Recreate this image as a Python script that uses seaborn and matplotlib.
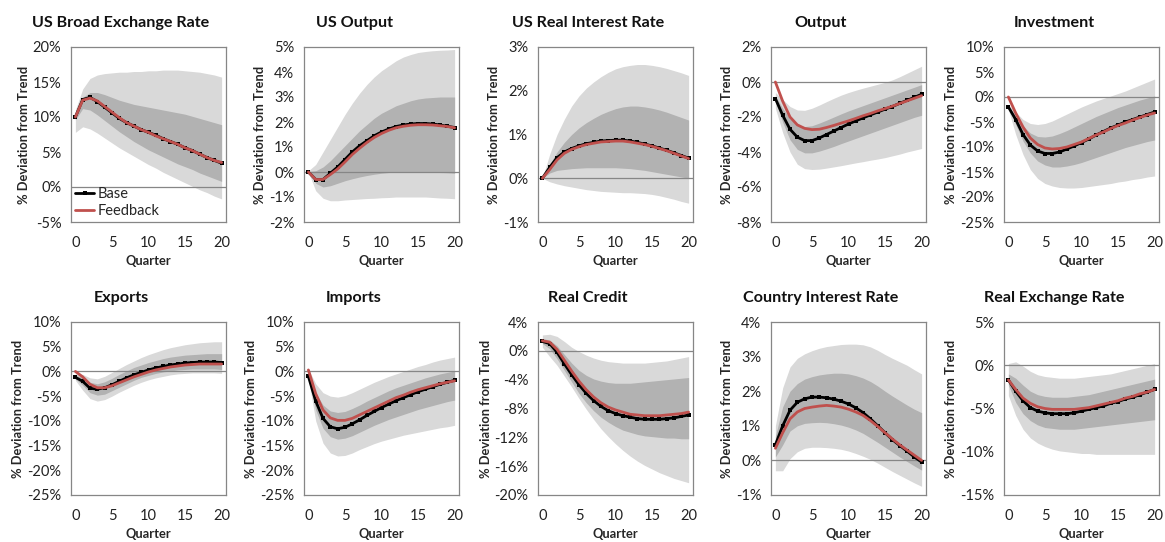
import matplotlib
import matplotlib.pyplot as plt
import numpy as np
import pandas as pd
import seaborn as sns
from matplotlib.lines import Line2D
from matplotlib.ticker import FuncFormatter, MultipleLocator

matplotlib.use("Agg")

QUARTERS = list(range(21))

# US Broad Exchange Rate
BROAD_BASE = [10, 12.5, 12.8, 12.2, 11.4, 10.6, 9.8, 9.2, 8.7, 8.2, 7.8, 7.4, 6.9, 6.5, 6.1, 5.6, 5.2, 4.7, 4.2, 3.8, 3.4]
BROAD_FEED = [10, 12.4, 12.7, 12.3, 11.5, 10.7, 9.9, 9.2, 8.7, 8.2, 7.8, 7.3, 6.9, 6.5, 6.1, 5.6, 5.2, 4.7, 4.2, 3.8, 3.5]
BROAD_OUT_HI = [11, 14, 15.5, 16, 16.2, 16.3, 16.4, 16.4, 16.5, 16.5, 16.6, 16.6, 16.7, 16.7, 16.7, 16.6, 16.5, 16.4, 16.2, 16.0, 15.7]
BROAD_OUT_LO = [7.8, 8.6, 8.3, 7.7, 7.0, 6.3, 5.6, 5.0, 4.4, 3.8, 3.2, 2.7, 2.1, 1.6, 1.1, 0.6, 0.1, -0.4, -0.8, -1.3, -1.7]
BROAD_IN_HI = [10, 12.8, 13.5, 13.5, 13.2, 12.8, 12.4, 12.1, 11.8, 11.6, 11.4, 11.2, 11.0, 10.8, 10.6, 10.4, 10.1, 9.8, 9.5, 9.2, 8.9]
BROAD_IN_LO = [9.6, 11.2, 11.0, 10.3, 9.5, 8.7, 7.9, 7.2, 6.5, 5.9, 5.3, 4.8, 4.3, 3.8, 3.3, 2.9, 2.5, 2.0, 1.6, 1.2, 0.8]

# US Output
USY_BASE = [0, -0.3, -0.3, -0.05, 0.2, 0.5, 0.8, 1.05, 1.25, 1.45, 1.6, 1.72, 1.82, 1.88, 1.92, 1.94, 1.94, 1.92, 1.88, 1.83, 1.78]
USY_FEED = [0, -0.3, -0.3, -0.1, 0.12, 0.4, 0.7, 0.95, 1.18, 1.38, 1.54, 1.67, 1.77, 1.83, 1.87, 1.89, 1.89, 1.88, 1.85, 1.82, 1.77]
USY_OUT_HI = [0.05, 0.3, 0.8, 1.3, 1.8, 2.3, 2.75, 3.15, 3.5, 3.8, 4.05, 4.25, 4.45, 4.6, 4.7, 4.78, 4.82, 4.85, 4.87, 4.88, 4.9]
USY_OUT_LO = [0, -0.75, -1.05, -1.15, -1.15, -1.12, -1.1, -1.08, -1.06, -1.05, -1.03, -1.02, -1.0, -1.0, -1.0, -1.0, -1.0, -1.02, -1.04, -1.05, -1.07]
USY_IN_HI = [0.02, 0.05, 0.2, 0.45, 0.75, 1.05, 1.35, 1.65, 1.9, 2.15, 2.35, 2.5, 2.65, 2.75, 2.85, 2.92, 2.96, 2.98, 3.0, 3.0, 3.0]
USY_IN_LO = [0, -0.45, -0.6, -0.55, -0.45, -0.35, -0.27, -0.2, -0.14, -0.09, -0.05, -0.02, 0.0, 0.02, 0.02, 0.02, 0.01, 0.0, -0.02, -0.03, -0.05]

# US Real Interest Rate
USR_BASE = [0, 0.25, 0.47, 0.6, 0.68, 0.74, 0.79, 0.82, 0.85, 0.86, 0.87, 0.87, 0.85, 0.82, 0.78, 0.74, 0.69, 0.64, 0.58, 0.52, 0.46]
USR_FEED = [0, 0.2, 0.42, 0.57, 0.66, 0.72, 0.77, 0.8, 0.83, 0.84, 0.85, 0.85, 0.83, 0.8, 0.77, 0.73, 0.68, 0.63, 0.57, 0.51, 0.45]
USR_OUT_HI = [0, 0.55, 1.0, 1.35, 1.65, 1.88, 2.06, 2.2, 2.32, 2.42, 2.5, 2.55, 2.58, 2.6, 2.6, 2.58, 2.55, 2.51, 2.46, 2.41, 2.35]
USR_OUT_LO = [0, -0.08, -0.13, -0.17, -0.2, -0.23, -0.26, -0.28, -0.3, -0.31, -0.32, -0.33, -0.33, -0.34, -0.35, -0.37, -0.4, -0.44, -0.48, -0.53, -0.57]
USR_IN_HI = [0, 0.32, 0.6, 0.82, 1.0, 1.15, 1.27, 1.37, 1.46, 1.53, 1.59, 1.63, 1.65, 1.65, 1.63, 1.6, 1.56, 1.51, 1.45, 1.39, 1.33]
USR_IN_LO = [0, 0.12, 0.18, 0.2, 0.22, 0.23, 0.24, 0.24, 0.24, 0.24, 0.24, 0.23, 0.22, 0.2, 0.18, 0.15, 0.12, 0.09, 0.06, 0.03, 0.0]

# Output
OUT_BASE = [-0.95, -1.9, -2.7, -3.15, -3.35, -3.35, -3.2, -3.0, -2.8, -2.6, -2.4, -2.22, -2.05, -1.88, -1.72, -1.55, -1.4, -1.22, -1.05, -0.88, -0.7]
OUT_FEED = [0, -1.1, -2.0, -2.45, -2.65, -2.72, -2.7, -2.6, -2.48, -2.35, -2.22, -2.08, -1.93, -1.8, -1.65, -1.52, -1.38, -1.23, -1.08, -0.93, -0.78]
OUT_OUT_HI = [-0.6, -1.0, -1.4, -1.6, -1.62, -1.5, -1.32, -1.12, -0.93, -0.75, -0.6, -0.47, -0.35, -0.24, -0.13, -0.02, 0.12, 0.3, 0.5, 0.7, 0.9]
OUT_OUT_LO = [-1.5, -2.9, -4.0, -4.7, -4.95, -5.0, -4.98, -4.92, -4.85, -4.78, -4.7, -4.62, -4.55, -4.47, -4.4, -4.32, -4.22, -4.12, -4.0, -3.9, -3.8]
OUT_IN_HI = [-0.8, -1.5, -2.1, -2.45, -2.55, -2.5, -2.35, -2.18, -2.0, -1.82, -1.65, -1.5, -1.35, -1.2, -1.05, -0.9, -0.75, -0.6, -0.45, -0.3, -0.15]
OUT_IN_LO = [-1.1, -2.3, -3.3, -3.85, -4.05, -4.05, -3.95, -3.82, -3.68, -3.52, -3.37, -3.22, -3.07, -2.92, -2.77, -2.62, -2.47, -2.32, -2.17, -2.02, -1.9]

# Investment
INV_BASE = [-2, -4.5, -7.5, -9.6, -10.8, -11.3, -11.3, -11.0, -10.4, -9.8, -9.1, -8.4, -7.6, -6.9, -6.2, -5.6, -5.0, -4.5, -4.0, -3.5, -3.0]
INV_FEED = [0, -3.2, -6.0, -8.2, -9.5, -10.2, -10.4, -10.3, -10.0, -9.5, -9.0, -8.3, -7.6, -7.0, -6.3, -5.7, -5.2, -4.6, -4.1, -3.6, -3.2]
INV_OUT_HI = [-1.5, -3.0, -4.5, -5.3, -5.5, -5.3, -4.8, -4.1, -3.4, -2.7, -2.0, -1.4, -0.8, -0.3, 0.2, 0.7, 1.2, 1.8, 2.4, 3.0, 3.6]
INV_OUT_LO = [-2.5, -7.5, -11.5, -14.5, -16.3, -17.3, -17.8, -18.1, -18.2, -18.2, -18.1, -17.9, -17.7, -17.5, -17.3, -17.0, -16.8, -16.5, -16.3, -16.0, -15.8]
INV_IN_HI = [-1.8, -3.8, -5.8, -7.2, -7.9, -8.0, -7.8, -7.3, -6.7, -6.0, -5.3, -4.6, -3.9, -3.3, -2.7, -2.1, -1.6, -1.1, -0.6, -0.2, 0.2]
INV_IN_LO = [-2.2, -5.5, -8.8, -11.2, -12.8, -13.6, -14.0, -14.0, -13.8, -13.5, -13.1, -12.6, -12.1, -11.6, -11.1, -10.6, -10.1, -9.7, -9.3, -8.9, -8.6]

# Exports
EXP_BASE = [-1.2, -2.0, -3.4, -3.6, -3.3, -2.7, -2.0, -1.3, -0.7, -0.2, 0.3, 0.7, 1.0, 1.3, 1.5, 1.7, 1.8, 1.9, 1.9, 1.9, 1.8]
EXP_FEED = [0, -1.1, -2.6, -3.3, -3.3, -2.9, -2.3, -1.7, -1.1, -0.6, -0.1, 0.3, 0.6, 0.9, 1.1, 1.3, 1.4, 1.5, 1.5, 1.5, 1.5]
EXP_OUT_HI = [-0.5, -0.6, -1.3, -1.5, -1.0, -0.2, 0.6, 1.4, 2.1, 2.8, 3.4, 3.9, 4.4, 4.8, 5.1, 5.4, 5.6, 5.8, 5.9, 6.0, 6.0]
EXP_OUT_LO = [-1.8, -3.8, -5.5, -6.0, -5.7, -5.0, -4.2, -3.5, -2.8, -2.2, -1.7, -1.3, -1.0, -0.7, -0.5, -0.4, -0.3, -0.3, -0.3, -0.3, -0.4]
EXP_IN_HI = [-0.8, -1.2, -2.2, -2.5, -2.1, -1.4, -0.6, 0.1, 0.8, 1.3, 1.8, 2.2, 2.6, 2.9, 3.1, 3.3, 3.4, 3.5, 3.6, 3.6, 3.6]
EXP_IN_LO = [-1.5, -2.8, -4.3, -4.8, -4.6, -3.9, -3.2, -2.5, -1.8, -1.2, -0.8, -0.4, -0.1, 0.1, 0.3, 0.4, 0.5, 0.5, 0.5, 0.5, 0.4]

# Imports
IMP_BASE = [-1.0, -6.0, -9.5, -11.2, -11.6, -11.3, -10.6, -9.8, -8.9, -8.1, -7.3, -6.6, -5.9, -5.3, -4.7, -4.1, -3.6, -3.1, -2.6, -2.2, -1.8]
IMP_FEED = [0.3, -4.5, -7.8, -9.4, -9.9, -9.9, -9.5, -8.8, -8.1, -7.4, -6.7, -6.0, -5.3, -4.8, -4.2, -3.7, -3.3, -2.9, -2.5, -2.2, -1.9]
IMP_OUT_HI = [0.5, -2.5, -4.3, -5.0, -5.2, -4.9, -4.3, -3.6, -2.9, -2.2, -1.6, -1.0, -0.5, 0.0, 0.5, 1.0, 1.4, 1.9, 2.3, 2.6, 2.9]
IMP_OUT_LO = [-1.5, -10.0, -14.5, -16.5, -17.1, -17.0, -16.5, -15.8, -15.2, -14.6, -14.1, -13.7, -13.3, -12.9, -12.6, -12.3, -12.0, -11.7, -11.4, -11.2, -10.9]
IMP_IN_HI = [-0.5, -4.3, -6.8, -8.0, -8.3, -8.1, -7.5, -6.8, -6.0, -5.3, -4.6, -3.9, -3.3, -2.8, -2.3, -1.8, -1.3, -0.9, -0.5, -0.2, 0.1]
IMP_IN_LO = [-1.3, -7.8, -11.5, -13.2, -13.7, -13.5, -13.0, -12.3, -11.6, -10.9, -10.3, -9.7, -9.2, -8.7, -8.2, -7.7, -7.3, -6.9, -6.5, -6.1, -5.8]

# Real Credit
CRED_BASE = [1.3, 1.0, -0.2, -1.8, -3.3, -4.7, -5.9, -6.9, -7.7, -8.3, -8.7, -9.0, -9.2, -9.4, -9.5, -9.5, -9.5, -9.4, -9.3, -9.1, -8.9]
CRED_FEED = [1.4, 1.2, 0.2, -1.3, -2.8, -4.2, -5.4, -6.4, -7.2, -7.8, -8.2, -8.5, -8.8, -8.9, -9.0, -9.0, -9.0, -8.9, -8.8, -8.7, -8.5]
CRED_OUT_HI = [2.2, 2.3, 2.0, 1.3, 0.5, -0.1, -0.6, -1.0, -1.3, -1.5, -1.6, -1.7, -1.7, -1.7, -1.7, -1.6, -1.5, -1.4, -1.2, -1.0, -0.8]
CRED_OUT_LO = [0.5, -0.8, -2.0, -3.5, -5.0, -6.6, -8.1, -9.5, -10.8, -11.9, -12.9, -13.8, -14.6, -15.3, -15.9, -16.4, -16.9, -17.3, -17.7, -18.0, -18.3]
CRED_IN_HI = [1.7, 1.5, 0.7, -0.5, -1.7, -2.7, -3.4, -3.9, -4.2, -4.4, -4.5, -4.5, -4.5, -4.4, -4.3, -4.2, -4.1, -4.0, -3.9, -3.8, -3.7]
CRED_IN_LO = [1.0, 0.3, -1.1, -2.7, -4.3, -5.9, -7.2, -8.3, -9.2, -9.9, -10.5, -11.0, -11.3, -11.6, -11.8, -11.9, -12.0, -12.1, -12.1, -12.2, -12.2]

# Country Interest Rate
CIR_BASE = [0.45, 1.0, 1.45, 1.68, 1.78, 1.83, 1.83, 1.81, 1.77, 1.71, 1.63, 1.52, 1.38, 1.2, 1.0, 0.8, 0.6, 0.43, 0.27, 0.1, -0.05]
CIR_FEED = [0.35, 0.8, 1.2, 1.4, 1.5, 1.54, 1.57, 1.59, 1.57, 1.54, 1.48, 1.4, 1.3, 1.15, 0.98, 0.8, 0.62, 0.45, 0.3, 0.15, 0.0]
CIR_OUT_HI = [1.0, 2.1, 2.7, 2.95, 3.08, 3.17, 3.24, 3.29, 3.32, 3.35, 3.36, 3.36, 3.34, 3.28, 3.18, 3.06, 2.95, 2.85, 2.75, 2.62, 2.5]
CIR_OUT_LO = [-0.3, -0.3, 0.05, 0.25, 0.35, 0.38, 0.38, 0.37, 0.35, 0.32, 0.27, 0.2, 0.12, 0.03, -0.08, -0.2, -0.32, -0.43, -0.54, -0.65, -0.75]
CIR_IN_HI = [0.7, 1.55, 2.0, 2.22, 2.35, 2.42, 2.47, 2.5, 2.52, 2.52, 2.5, 2.45, 2.38, 2.28, 2.15, 2.0, 1.86, 1.73, 1.6, 1.48, 1.38]
CIR_IN_LO = [0.1, 0.45, 0.85, 1.0, 1.07, 1.09, 1.1, 1.09, 1.06, 1.02, 0.96, 0.88, 0.78, 0.65, 0.52, 0.38, 0.24, 0.1, -0.03, -0.16, -0.28]

# Real Exchange Rate
RER_BASE = [-1.7, -3.0, -4.1, -4.9, -5.3, -5.5, -5.6, -5.6, -5.6, -5.5, -5.3, -5.1, -4.9, -4.7, -4.4, -4.2, -3.9, -3.7, -3.4, -3.1, -2.8]
RER_FEED = [-1.7, -2.8, -3.8, -4.4, -4.8, -5.0, -5.1, -5.1, -5.1, -5.1, -5.0, -4.9, -4.7, -4.5, -4.3, -4.1, -3.8, -3.6, -3.3, -3.1, -2.8]
RER_OUT_HI = [0.2, 0.4, -0.1, -0.7, -1.1, -1.3, -1.4, -1.5, -1.5, -1.5, -1.4, -1.3, -1.2, -1.1, -1.0, -0.8, -0.6, -0.4, -0.2, 0.0, 0.2]
RER_OUT_LO = [-3.5, -5.8, -7.4, -8.4, -9.0, -9.4, -9.7, -9.9, -10.0, -10.1, -10.2, -10.2, -10.3, -10.3, -10.3, -10.3, -10.3, -10.3, -10.3, -10.3, -10.3]
RER_IN_HI = [-1.0, -1.5, -2.3, -3.0, -3.4, -3.6, -3.7, -3.7, -3.7, -3.6, -3.5, -3.4, -3.2, -3.0, -2.8, -2.6, -2.4, -2.2, -2.0, -1.8, -1.6]
RER_IN_LO = [-2.3, -4.3, -5.6, -6.4, -6.9, -7.2, -7.3, -7.4, -7.4, -7.4, -7.3, -7.2, -7.1, -7.0, -6.9, -6.8, -6.7, -6.6, -6.5, -6.4, -6.3]

# title, (ymin, ymax), tick step, base, feedback, outer lo/hi, inner lo/hi
PANELS = [
    ("US Broad Exchange Rate", (-5, 20), 5, BROAD_BASE, BROAD_FEED, BROAD_OUT_LO, BROAD_OUT_HI, BROAD_IN_LO, BROAD_IN_HI),
    ("US Output", (-2, 5), 1, USY_BASE, USY_FEED, USY_OUT_LO, USY_OUT_HI, USY_IN_LO, USY_IN_HI),
    ("US Real Interest Rate", (-1, 3), 1, USR_BASE, USR_FEED, USR_OUT_LO, USR_OUT_HI, USR_IN_LO, USR_IN_HI),
    ("Output", (-8, 2), 2, OUT_BASE, OUT_FEED, OUT_OUT_LO, OUT_OUT_HI, OUT_IN_LO, OUT_IN_HI),
    ("Investment", (-25, 10), 5, INV_BASE, INV_FEED, INV_OUT_LO, INV_OUT_HI, INV_IN_LO, INV_IN_HI),
    ("Exports", (-25, 10), 5, EXP_BASE, EXP_FEED, EXP_OUT_LO, EXP_OUT_HI, EXP_IN_LO, EXP_IN_HI),
    ("Imports", (-25, 10), 5, IMP_BASE, IMP_FEED, IMP_OUT_LO, IMP_OUT_HI, IMP_IN_LO, IMP_IN_HI),
    ("Real Credit", (-20, 4), 4, CRED_BASE, CRED_FEED, CRED_OUT_LO, CRED_OUT_HI, CRED_IN_LO, CRED_IN_HI),
    ("Country Interest Rate", (-1, 4), 1, CIR_BASE, CIR_FEED, CIR_OUT_LO, CIR_OUT_HI, CIR_IN_LO, CIR_IN_HI),
    ("Real Exchange Rate", (-15, 5), 5, RER_BASE, RER_FEED, RER_OUT_LO, RER_OUT_HI, RER_IN_LO, RER_IN_HI),
]

OUTER_COLOR = "#d9d9d9"
INNER_COLOR = "#b2b2b2"
BASE_COLOR = "#000000"
FEED_COLOR = "#c0504d"
FRAME_COLOR = "#868686"

W, H = 1165, 542
AX_LEFT = [71, 304, 538, 771, 1004]
AX_W = 155
ROW_TOP = [47, 322]
ROW_H = [175, 173]

sns.set_theme(style="white")
plt.rcParams["font.family"] = ["Lato", "DejaVu Sans"]

fig = plt.figure(figsize=(W / 100, H / 100), dpi=100)
pct = FuncFormatter(lambda v, _: f"{v:.0f}%")

for i, (title, ylim, step, base, feed, out_lo, out_hi, in_lo, in_hi) in enumerate(PANELS):
    row, col = divmod(i, 5)
    left = AX_LEFT[col] / W
    bottom = 1 - (ROW_TOP[row] + ROW_H[row]) / H
    ax = fig.add_axes([left, bottom, AX_W / W, ROW_H[row] / H])

    df = pd.DataFrame({
        "quarter": QUARTERS, "base": base, "feed": feed,
        "out_lo": out_lo, "out_hi": out_hi, "in_lo": in_lo, "in_hi": in_hi,
    })
    ax.fill_between(df["quarter"], df["out_lo"], df["out_hi"], color=OUTER_COLOR, lw=0, zorder=1)
    ax.fill_between(df["quarter"], df["in_lo"], df["in_hi"], color=INNER_COLOR, lw=0, zorder=2)
    ax.axhline(0, color=FRAME_COLOR, lw=0.9, zorder=3)
    sns.lineplot(data=df, x="quarter", y="base", ax=ax, color=BASE_COLOR, lw=2.0,
                 marker="s", markersize=2.6, markeredgewidth=0, zorder=4)
    sns.lineplot(data=df, x="quarter", y="feed", ax=ax, color=FEED_COLOR, lw=2.0, zorder=5)

    ax.set_xlim(-0.6, 20.6)
    ax.set_ylim(*ylim)
    ax.xaxis.set_major_locator(MultipleLocator(5))
    ax.yaxis.set_major_locator(MultipleLocator(step))
    ax.yaxis.set_major_formatter(pct)
    ax.tick_params(axis="both", length=0, labelsize=10.5, colors="#222222")
    ax.tick_params(axis="x", pad=10)
    ax.tick_params(axis="y", pad=7)
    for sp in ax.spines.values():
        sp.set_color(FRAME_COLOR)
        sp.set_linewidth(0.9)

    ax.set_xlabel("Quarter", fontsize=9.3, fontweight="bold", labelpad=4)
    ax.set_ylabel("% Deviation from Trend", fontsize=9.3, fontweight="bold", labelpad=2)
    ax.text(0.5 - 27.5 / AX_W, 1 + 24 / ROW_H[row], title, transform=ax.transAxes,
            ha="center", va="center", fontsize=11.6, fontweight="bold", color="#111111")

    if i == 0:
        handles = [
            Line2D([], [], color=BASE_COLOR, lw=2.0, marker="s", markersize=2.6, markeredgewidth=0),
            Line2D([], [], color=FEED_COLOR, lw=2.0),
        ]
        ax.legend(handles, ["Base", "Feedback"], loc="lower left", frameon=False,
                  fontsize=10.5, handlelength=1.3, handletextpad=0.2, labelspacing=0.15,
                  borderaxespad=0.1, borderpad=0.2)

fig.savefig("out.png", dpi=100)
